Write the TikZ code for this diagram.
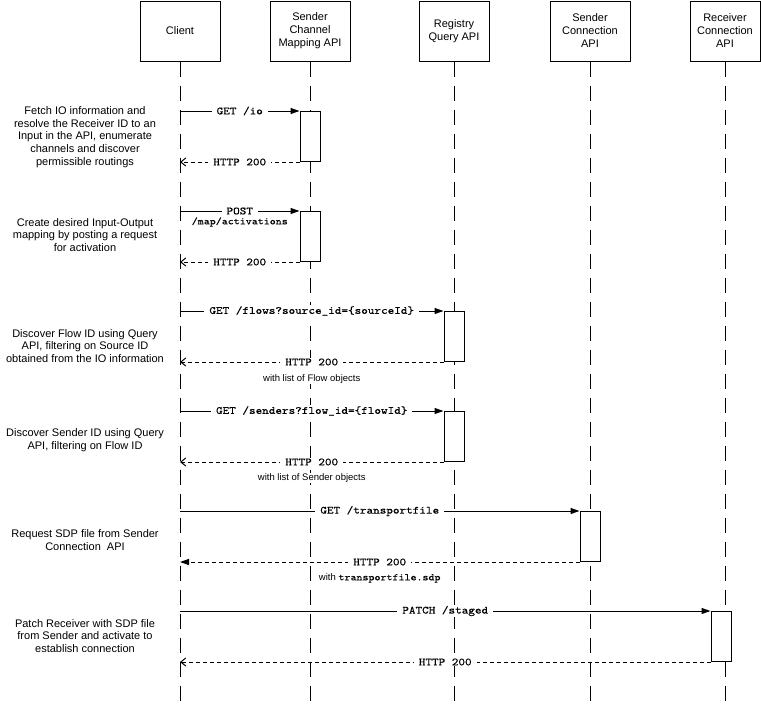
\documentclass[tikz,border=0pt]{standalone}
\usepackage{fontspec}
\setmainfont{Liberation Sans}
\newfontfamily\msgfont[FakeStretch=1.143, FakeBold=0.35]{lmmono10-regular.otf}
\usetikzlibrary{arrows.meta, positioning}

\tikzset{
	actor/.style = {draw, line width=1pt, minimum height=60pt, inner sep=0pt, align=center, font=\fontsize{11}{13}\selectfont},
	lifeline/.style = {line width=1pt, dash pattern=on 15pt off 9pt},
	act/.style = {draw, fill=white, line width=1pt, minimum width=20pt, minimum height=50pt, inner sep=0pt, anchor=north},
	req/.style = {line width=1pt, -{Triangle[length=9pt, width=6pt]}},
	ret/.style = {line width=1pt, dash pattern=on 4pt off 3pt, -{Straight Barb[length=5pt, width=8pt]}},
	msg/.style = {fill=white, inner xsep=5pt, inner ysep=1pt, font=\msgfont\fontsize{11}{13}\selectfont},
	submsg/.style = {fill=white, inner sep=1pt, font=\msgfont\fontsize{10}{12}\selectfont},
	sub/.style = {fill=white, inner sep=1pt, font=\fontsize{9.5}{11}\selectfont},
	note/.style = {align=center, inner sep=0pt, font=\fontsize{11}{12.7}\selectfont}
}

\begin{document}
\begin{tikzpicture}[x = 1pt, y = -1pt]
			\useasboundingbox (0,0) rectangle (761,712);

			% participants
			\begin{scope}
				\node [actor, minimum width=80pt] (client) at (180,31) {Client};
				\node [actor, minimum width=80pt] (scm) at (310,31) {Sender\\Channel\\Mapping API};
				\node [actor, minimum width=70pt] (reg) at (454,31) {Registry\\Query API};
				\node [actor, minimum width=80pt] (sca) at (590,31) {Sender\\Connection\\API};
				\node [actor, minimum width=70pt] (rca) at (725,31) {Receiver\\Connection\\API};
			\end{scope}

			\foreach \p in {client, scm, reg, sca, rca}
				\draw [lifeline] (\p.south) -- ++(0,640);

			% steps
			\begin{scope}
				\node [note] (n1) at (85,137) {Fetch IO information and\\resolve the Receiver ID to an\\Input in the API, enumerate\\channels and discover\\permissible routings};
				\node [note] (n2) at (85,235) {Create desired Input-Output\\mapping by posting a request\\for activation};
				\node [note] (n3) at (85,346) {Discover Flow ID using Query\\API, filtering on Source ID\\obtained from the IO information};
				\node [note] (n4) at (85,440) {Discover Sender ID using Query\\API, filtering on Flow ID};
				\node [note] (n5) at (85,540) {Request SDP file from Sender\\Connection\ \ API};
				\node [note] (n6) at (85,636) {Patch Receiver with SDP file\\from Sender and activate to\\establish connection};
			\end{scope}

			% activations
			\begin{scope}
				\node [act] (a1) at (scm |- 0,111) {};
				\node [act] (a2) at (scm |- 0,211) {};
				\node [act] (a3) at (reg |- 0,311) {};
				\node [act] (a4) at (reg |- 0,411) {};
				\node [act] (a5) at (sca |- 0,511) {};
				\node [act, xshift=-4pt] (a6) at (rca |- 0,611) {};
			\end{scope}

			% requests
			\begin{scope}[req]
				\draw (client |- a1.north) -- (a1.north west) node [msg, midway] {GET /io};
				\draw (client |- a2.north) -- (a2.north west) node [msg, midway] {POST}
					node [submsg, midway, yshift=-11pt] {/map/activations};
				\draw (client |- a3.north) -- (a3.north west) node [msg, midway] {GET /flows?source\_id=\{sourceId\}};
				\draw (client |- a4.north) -- (a4.north west) node [msg, midway] {GET /senders?flow\_id=\{flowId\}};
				\draw (client |- a5.north) -- (a5.north west) node [msg, midway] {GET /transportfile};
				\draw (client |- a6.north) -- (a6.north west) node [msg, midway] {PATCH /staged};
			\end{scope}

			% responses
			\begin{scope}[ret]
				\draw (a1.south west) -- (client |- a1.south) node [msg, midway] {HTTP 200};
				\draw (a2.south west) -- (client |- a2.south) node [msg, midway] {HTTP 200};
				\draw (a3.south west) -- (client |- a3.south) node [msg, midway] {HTTP 200}
					node [sub, midway, yshift=-17pt] {with list of Flow objects};
				\draw (a4.south west) -- (client |- a4.south) node [msg, midway] {HTTP 200}
					node [sub, midway, yshift=-16pt] {with list of Sender objects};
				\draw [-{Triangle[length=9pt, width=6pt]}] (a5.south west) -- (client |- a5.south) node [msg, midway] {HTTP 200}
					node [sub, midway, yshift=-16pt] {with {\msgfont\fontsize{10}{12}\selectfont transportfile.sdp}};
				\draw (a6.south west) -- (client |- a6.south) node [msg, midway] {HTTP 200};
			\end{scope}
		\end{tikzpicture}
\end{document}
